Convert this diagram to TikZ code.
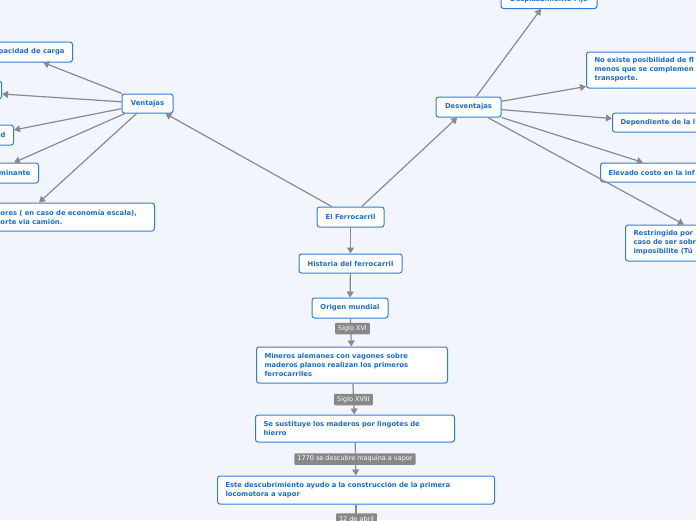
\documentclass[tikz,border=0pt]{standalone}
\usepackage{fontspec}
\setmainfont{DejaVu Sans}
\usetikzlibrary{arrows.meta}
\definecolor{bg}{RGB}{243,245,253}
\definecolor{bcol}{RGB}{45,125,220}
\definecolor{tcol}{RGB}{25,110,210}
\definecolor{lcol}{RGB}{138,138,142}
\definecolor{gcol}{RGB}{136,136,136}
\begin{document}
\begin{tikzpicture}[x=1pt,y=-1pt,
 box/.style={draw=bcol,fill=white,rounded corners=2.5pt,line width=1pt,text=tcol,
   font=\fontsize{6.8}{9}\selectfont\bfseries,inner xsep=8pt,inner ysep=0pt},
 tag/.style={fill=gcol,text=white,font=\fontsize{6.5}{7}\selectfont,inner xsep=3pt,
   inner ysep=0pt,minimum height=11.5pt,rounded corners=1pt},
 conn/.style={draw=lcol,line width=1.2pt,-{Triangle[length=6pt,width=7pt]}},
 plain/.style={draw=lcol,line width=1.2pt}]
\path[fill=bg] (0,0) rectangle (696,520);
\useasboundingbox (0,0) rectangle (696,520);
\begin{scope}
\clip (0,0) rectangle (696,520);
% centre
\node[box,minimum width=67pt,minimum height=20pt] (root) at (350.5,217) {El Ferrocarril};
\node[box,minimum width=103pt,minimum height=19pt] (hist) at (350.5,263.5) {Historia del ferrocarril};
\node[box,minimum width=76pt,minimum height=20pt] (orig) at (350,308) {Origen mundial};
\node[box,anchor=west,text width=175pt,minimum height=36pt,align=left] (mine) at (256,365)
  {Mineros alemanes con vagones sobre\\maderos planos realizan los primeros\\ferrocarriles};
\node[box,anchor=west,text width=183pt,minimum height=27pt,align=left] (sust) at (255,428.5)
  {Se sustituye los maderos por lingotes de\\hierro};
\node[box,anchor=west,text width=261pt,minimum height=28pt,align=left] (este) at (217,490)
  {Este descubrimiento ayudo a la construcción de la primera\\locomotora a vapor};
\coordinate (nxt) at (356,545);
% branches
\node[box,minimum width=51pt,minimum height=19pt] (ven) at (147.5,103.5) {Ventajas};
\node[box,minimum width=65pt,minimum height=20pt] (des) at (468.5,107) {Desventajas};
% left
\node[box,anchor=east,minimum height=20pt] (cap) at (73,52) {pacidad de carga};
\node[box,anchor=east,minimum width=60pt,minimum height=18pt] (vb) at (2,90) {};
\node[box,anchor=east,minimum height=20pt] (vc) at (14,135) {d};
\node[box,anchor=east,minimum height=20pt] (vd) at (39,173) {minante};
\node[box,anchor=west,text width=146pt,minimum height=28pt,align=left] (ve) at (-8,217)
  {ores ( en caso de economía escala),\\orte via camión.};
% right
\node[box,minimum width=96pt,minimum height=18pt] (desp) at (549,-0.5) {Desplazamiento Fijo};
\node[box,anchor=west,text width=134pt,minimum height=36pt,align=left] (da) at (586,70)
  {No existe posibilidad de fl\\menos que se complemen\\transporte.};
\node[box,anchor=west,text width=134pt,minimum height=19pt,align=left] (db) at (612,122.5)
  {Dependiente de la l};
\node[box,anchor=west,text width=134pt,minimum height=19pt,align=left] (dc) at (600,172.5)
  {Elevado costo en la inf};
\node[box,anchor=west,text width=134pt,minimum height=36pt,align=left] (dd) at (625,243)
  {Restringido por\\caso de ser sobr\\imposibilite (Tú};
% connectors
\draw[conn] (root) -- (ven);
\draw[conn] (root) -- (des);
\draw[conn] (root) -- (hist);
\draw[conn] (hist) -- (orig);
\draw[conn] (orig) -- (mine);
\draw[conn] (mine) -- (sust);
\draw[conn] (sust) -- (este);
\draw[plain] (este) -- (nxt);
\draw[conn] (ven) -- ([xshift=-30pt]cap.south east);
\draw[conn] (ven) -- ([yshift=-4pt]vb.east);
\draw[conn] (ven) -- ([yshift=5pt]vc.east);
\draw[conn] (ven) -- ([xshift=-25pt]vd.north east);
\draw[conn] (ven) -- ([xshift=-116pt]ve.north east);
\draw[conn] (des) -- ([xshift=-8pt]desp.south);
\draw[conn] (des) -- ([yshift=2pt]da.south west);
\draw[conn] (des) -- ([yshift=4pt]db.west);
\draw[conn] (des) -- ([xshift=43pt]dc.north west);
\draw[conn] (des) -- ([xshift=59pt]dd.north west);
% tags
\node[tag] (t1) at (352.5,328.5) {Siglo XVI};
\node[tag] (t2) at (353.5,399.5) {Siglo XVIII};
\node[tag] (t3) at (355,459) {1770 se descubre maquina a vapor};
\node[tag] (t4) at (356.5,519) {12 de abril};
\end{scope}
\end{tikzpicture}
\end{document}
